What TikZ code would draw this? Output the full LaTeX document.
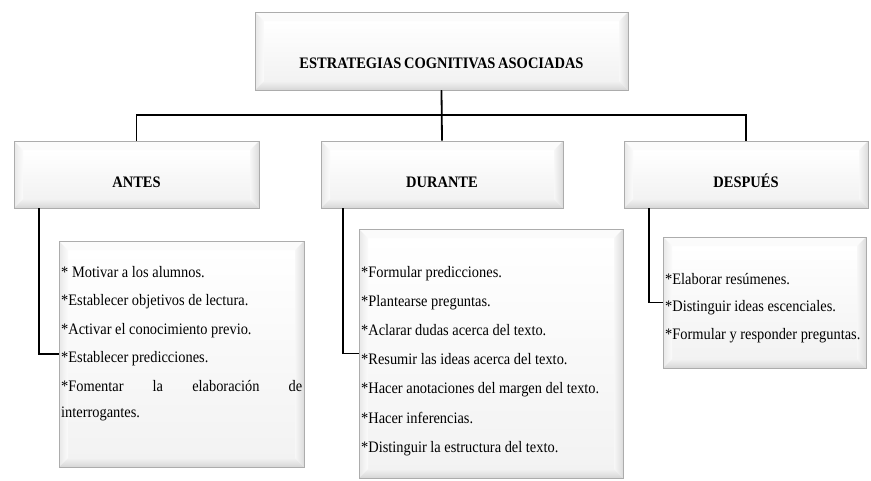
\documentclass[tikz,border=0pt]{standalone}
\usepackage{fontspec}
\setmainfont{Liberation Serif}[FakeStretch=0.9]
\newfontfamily\hdrfont{Liberation Serif}[FakeStretch=0.905, WordSpace=0.75]
\usetikzlibrary{calc}
\def\bv{9pt}
\newcommand\natsp{\spaceskip=0pt\xspaceskip=0pt\relax}
\tikzset{
  bevelbox/.style={draw=gray!65, line width=0.8pt, fill=white, inner sep=0pt,
    path picture={
      \coordinate (pNW) at (path picture bounding box.north west);
      \coordinate (pNE) at (path picture bounding box.north east);
      \coordinate (pSW) at (path picture bounding box.south west);
      \coordinate (pSE) at (path picture bounding box.south east);
      \coordinate (iNW) at ($(pNW)+(\bv,-\bv)$);
      \coordinate (iNE) at ($(pNE)+(-\bv,-\bv)$);
      \coordinate (iSW) at ($(pSW)+(\bv,\bv)$);
      \coordinate (iSE) at ($(pSE)+(-\bv,\bv)$);
      \shade[top color=white, bottom color=gray!10] (iNW) rectangle (iSE);
      \fill[gray!3] (pNW) -- (pNE) -- (iNE) -- (iNW) -- cycle;
      \shade[left color=gray!18, right color=gray!3] (pNW) -- (iNW) -- (iSW) -- (pSW) -- cycle;
      \shade[left color=gray!6, right color=gray!28] (pNE) -- (iNE) -- (iSE) -- (pSE) -- cycle;
      \shade[top color=gray!10, bottom color=gray!32] (pSW) -- (iSW) -- (iSE) -- (pSE) -- cycle;
    }},
  hdrtext/.style={font=\hdrfont\fontsize{16}{18}\selectfont\bfseries, anchor=base, inner sep=0pt},
  listtext/.style={anchor=base west, inner sep=0pt, align=left},
  conn/.style={draw=black, line width=1.8pt}
}
\begin{document}
\begin{tikzpicture}[x=1pt,y=1pt]
\useasboundingbox (0,0) rectangle (871,-480);
% boxes
\node[bevelbox, minimum width=373pt, minimum height=78pt] (top) at (441.5,-51) {};
\node[bevelbox, minimum width=245pt, minimum height=67pt] (antes) at (136.5,-174.5) {};
\node[bevelbox, minimum width=242pt, minimum height=67pt] (durante) at (442,-174.5) {};
\node[bevelbox, minimum width=244pt, minimum height=67pt] (despues) at (746,-174.5) {};
\node[bevelbox, minimum width=245pt, minimum height=226pt] (antesl) at (181.5,-354) {};
\node[bevelbox, minimum width=264pt, minimum height=249pt] (durantel) at (491,-353.5) {};
\node[bevelbox, minimum width=203pt, minimum height=131pt] (despuesl) at (764.5,-302.5) {};
% header texts
\node[hdrtext] (topt) at (441.5,-68) {ESTRATEGIAS COGNITIVAS ASOCIADAS};
\node[hdrtext] (antest) at (136.5,-187) {ANTES};
\node[hdrtext] (durantet) at (442,-187) {DURANTE};
\node[hdrtext] (despuest) at (746,-187) {DESPUÉS};
% list texts
\node[listtext, text width=241pt, font=\fontsize{16}{28.5}\selectfont] (antesx) at (61,-277)
  {\natsp{*} Motivar a los alumnos.\\
   {*}Establecer objetivos de lectura.\\
   {*}Activar el conocimiento previo.\\
   {*}Establecer predicciones.\\
   \makebox[241pt][l]{{*}Fomentar\hfill la\hfill elaboración\hfill de}\\[-2.5pt]
   interrogantes.};
\node[listtext, text width=262pt, font=\fontsize{16}{29.2}\selectfont] (durantex) at (361,-277)
  {\natsp{*}Formular predicciones.\\
   {*}Plantearse preguntas.\\
   {*}Aclarar dudas acerca del texto.\\
   {*}Resumir las ideas acerca del texto.\\
   {*}Hacer anotaciones del margen del texto.\\
   {*}Hacer inferencias.\\
   {*}Distinguir la estructura del texto.};
\node[listtext, text width=200pt, font=\fontsize{16}{27.5}\selectfont] (despuesx) at (665,-284)
  {\natsp{*}Elaborar resúmenes.\\
   {*}Distinguir ideas escenciales.\\
   {*}Formular y responder preguntas.};
% connectors
\coordinate (bar) at (0,-115);
\draw[conn] (top.south) |- (antes.north |- bar) -- (antes.north);
\draw[conn] (top.south) |- (despues.north |- bar) -- (despues.north);
\draw[conn] (top.south) -- (durante.north);
\draw[conn] ([xshift=25pt]antes.south west) |- (antesl.west);
\draw[conn] ([xshift=22pt]durante.south west) |- (durantel.west);
\draw[conn] ([xshift=25pt]despues.south west) |- (despuesl.west);
\end{tikzpicture}
\end{document}
